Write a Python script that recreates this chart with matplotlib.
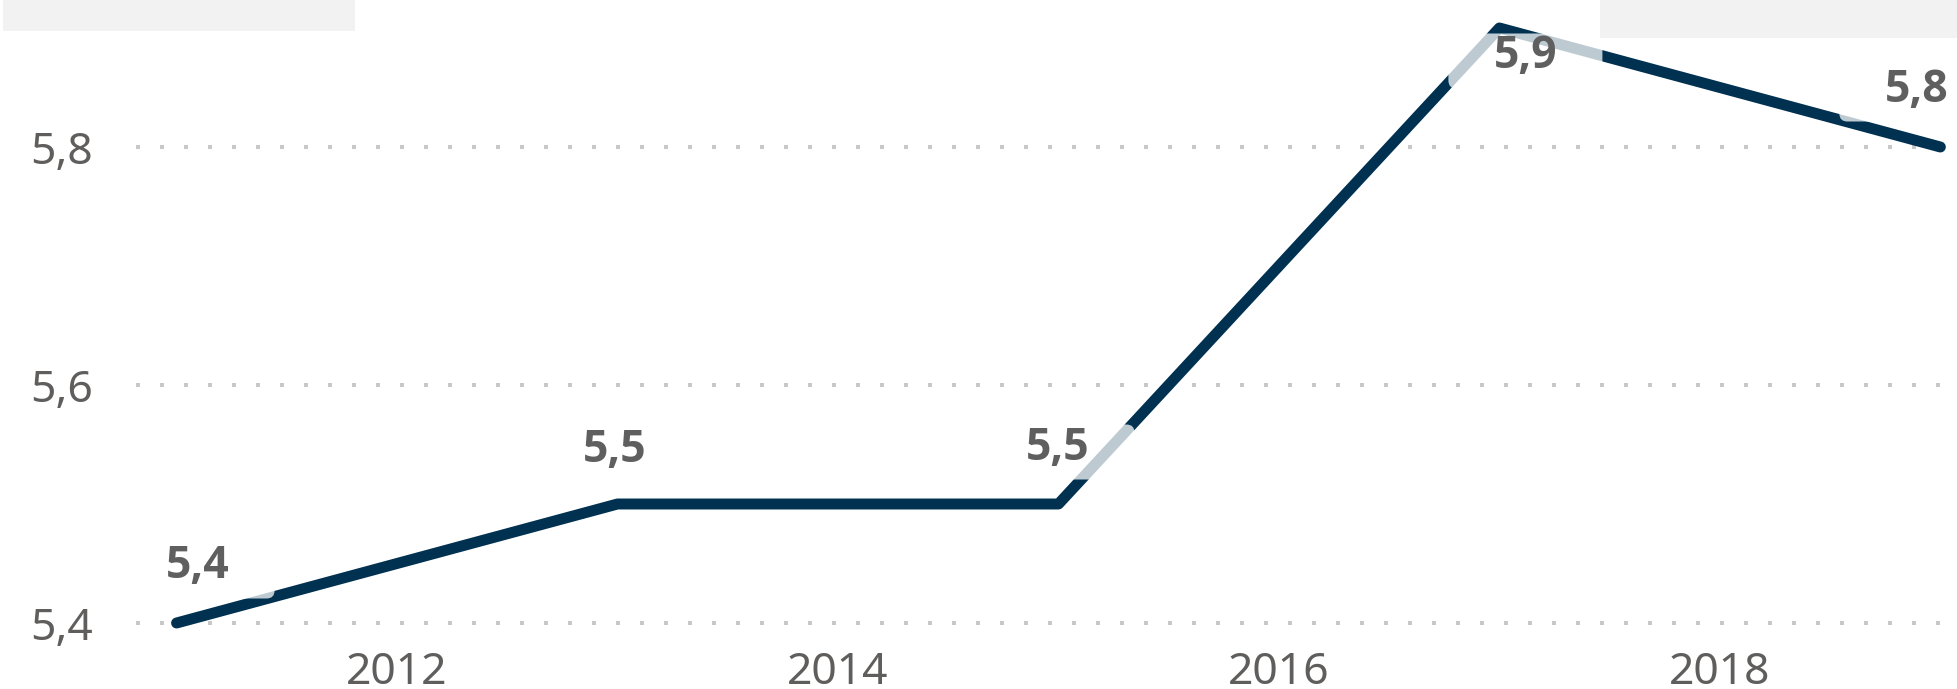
import matplotlib
matplotlib.use('Agg')
import matplotlib.pyplot as plt
from matplotlib.patches import FancyBboxPatch, Rectangle
import matplotlib.transforms as mtransforms
from matplotlib import font_manager

# ---- data ----
years = [2011, 2013, 2015, 2017, 2019]
values = [5.4, 5.5, 5.5, 5.9, 5.8]
value_labels = ['5,4', '5,5', '5,5', '5,9', '5,8']
y_ticks = [5.4, 5.6, 5.8]
y_tick_labels = ['5,4', '5,6', '5,8']
x_ticks = [2012, 2014, 2016, 2018]
x_tick_labels = ['2012', '2014', '2016', '2018']

# ---- style ----
label_offsets_px = [(21, 56), (-3, 53), (-1, 56), (26, -29), (-24, 57)]
LINE_COLOR = '#003150'
TEXT_COLOR = '#605e5c'
LABEL_COLOR = '#5f5f5f'
FONT = ['Noto Sans', 'DejaVu Sans']
FS = 32

# pick a family that really has a bold face installed
bold_family = 'DejaVu Sans'
for fam in ['Noto Sans', 'Open Sans', 'Lato', 'Roboto', 'Liberation Sans']:
    try:
        path = font_manager.findfont(font_manager.FontProperties(family=fam, weight='bold'),
                                     fallback_to_default=False)
        fp = font_manager.FontProperties(fname=path)
        if fam.lower().split()[0] in path.lower() and 'bold' in path.lower():
            bold_family = fam
            break
    except Exception:
        pass

W, H = 1958, 689
fig = plt.figure(figsize=(W / 100, H / 100), dpi=100)
fig.patch.set_facecolor('white')
ax = fig.add_axes([136 / W, (H - 646.8) / H, (W - 136) / W, 642.6 / H])
ax.set_xlim(2010.816, 2019.08)
ax.set_ylim(5.38, 5.92)
for s in ax.spines.values():
    s.set_visible(False)

ax.set_yticks(y_ticks)
ax.set_yticklabels(y_tick_labels, fontsize=FS, color=TEXT_COLOR, family=FONT)
ax.set_xticks(x_ticks)
ax.set_xticklabels(x_tick_labels, fontsize=FS, color=TEXT_COLOR, family=FONT)
ax.tick_params(axis='both', length=0)
ax.tick_params(axis='y', pad=31)
ax.tick_params(axis='x', pad=3)
ax.yaxis.grid(True, linestyle=(0, (1, 5)), linewidth=2.88, color='#c8c8c8')
ax.xaxis.grid(False)
ax.set_axisbelow(True)

ax.plot(years, values, color=LINE_COLOR, linewidth=7.9, solid_joinstyle='round',
        solid_capstyle='round', zorder=2, clip_on=False)

# data labels with semi-transparent white background boxes
fig.canvas.draw()
for x, y, lab, (dx, dy) in zip(years, values, value_labels, label_offsets_px):
    px, py = ax.transData.transform((x, y))
    cx, cy = px + dx, py + dy
    box = FancyBboxPatch((cx - 77, cy - 31.5), 154, 55,
                         boxstyle='round,pad=0,rounding_size=8',
                         transform=mtransforms.IdentityTransform(),
                         facecolor='white', edgecolor='none', alpha=0.75,
                         zorder=3, clip_on=False)
    ax.add_patch(box)
    tr = mtransforms.offset_copy(ax.transData, fig=fig, x=dx, y=dy, units='dots')
    ax.text(x, y, lab, transform=tr, ha='center', va='center', fontsize=FS,
            fontweight='bold', color=LABEL_COLOR, family=[bold_family, 'DejaVu Sans'],
            zorder=4, clip_on=False)

# light gray header boxes
fig.patches.append(Rectangle((3 / W, (H - 31) / H), 352 / W, 31 / H,
                             transform=fig.transFigure, facecolor='#f2f2f2',
                             edgecolor='none', zorder=5))
fig.patches.append(Rectangle((1600 / W, (H - 38) / H), 358 / W, 38 / H,
                             transform=fig.transFigure, facecolor='#f2f2f2',
                             edgecolor='none', zorder=5))

fig.savefig('out.png', dpi=100, facecolor='white')
